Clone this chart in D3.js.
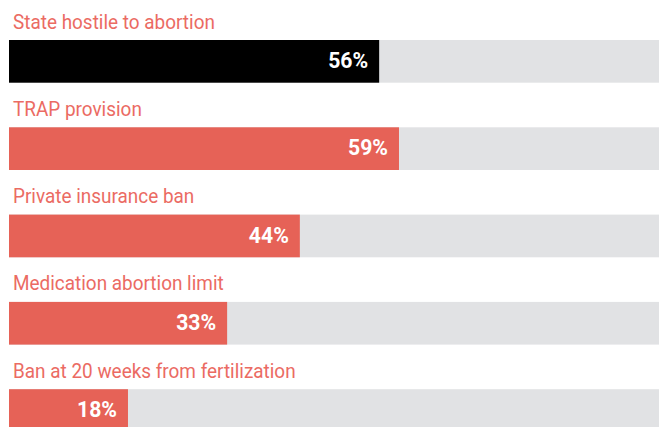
<!DOCTYPE html>
<html><head><meta charset="utf-8">
<script src="https://cdn.jsdelivr.net/npm/d3@7"></script>
<style>
html,body{margin:0;padding:0;background:#fff;overflow:hidden;}
svg{display:block;}
</style></head>
<body>
<svg id="chart" width="659" height="427"></svg>
<script>
const categories = ["State hostile to abortion","TRAP provision","Private insurance ban","Medication abortion limit","Ban at 20 weeks from fertilization"];
const values = [56, 59, 44, 33, 18];
const highlighted = ["State hostile to abortion"];

const svg = d3.select("#chart");
const x = d3.scaleLinear().domain([0, 100]).range([9, 670]);
const y = d3.scaleBand().domain(categories).range([40, 40 + 4*87.3 + 42.7]).paddingInner(0.511).paddingOuter(0).align(0);
const bh = y.bandwidth();
const data = categories.map((c, i) => ({c, v: values[i]}));

const g = svg.selectAll("g.row").data(data).join("g").attr("class", "row");

g.append("rect").attr("x", x(0)).attr("y", d => y(d.c)).attr("width", x(100) - x(0)).attr("height", bh).attr("fill", "#e1e2e4");
g.append("rect").attr("x", x(0)).attr("y", d => y(d.c)).attr("width", d => x(d.v) - x(0)).attr("height", bh)
  .attr("fill", d => highlighted.includes(d.c) ? "#000" : "#e66257");

const labels = g.append("text")
  .attr("font-family", "Roboto, sans-serif").attr("font-size", 21)
  .attr("fill", "#eb6b63").text(d => d.c);
const lw = labels.nodes()[0].getComputedTextLength();
const lk = 202 / lw;
labels.attr("transform", d => `translate(13,${y(d.c) - 11.5}) scale(${lk},1)`);

const vals = g.append("text").attr("text-anchor", "end")
  .attr("font-family", "Roboto, sans-serif").attr("font-size", 22.5).attr("font-weight", "bold")
  .attr("fill", "#fff").text(d => d.v + "%");
const vw = vals.nodes()[0].getComputedTextLength();
const vk = 40 / vw;
vals.attr("transform", d => `translate(${x(d.v) - 11},${y(d.c) + 28}) scale(${vk},1)`);
</script>
</body></html>
